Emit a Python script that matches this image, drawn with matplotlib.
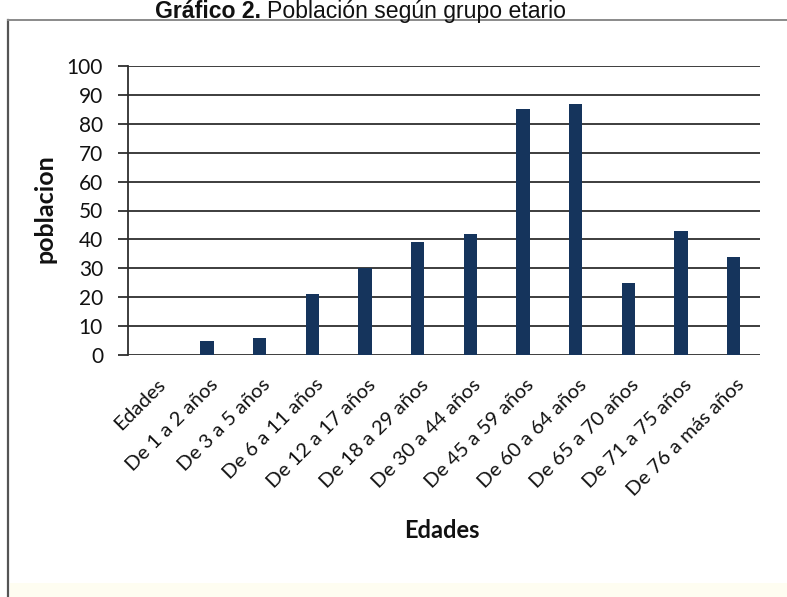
import matplotlib
matplotlib.use("Agg")
import matplotlib.pyplot as plt
import matplotlib.transforms as mtransforms
from matplotlib.patches import Rectangle
from matplotlib.lines import Line2D

categories = ["Edades", "De 1 a 2 años", "De 3 a 5 años", "De 6 a 11 años",
              "De 12 a 17 años", "De 18 a 29 años", "De 30 a 44 años",
              "De 45 a 59 años", "De 60 a 64 años", "De 65 a 70 años",
              "De 71 a 75 años", "De 76 a más años"]
poblacion = [0, 5, 6, 21, 30, 39, 42, 85, 87, 25, 43, 34]
y_ticks = [0, 10, 20, 30, 40, 50, 60, 70, 80, 90, 100]

W, H = 787, 597
DPI = 100
fig = plt.figure(figsize=(W / DPI, H / DPI), dpi=DPI)
fig.patch.set_facecolor("white")

BODY = "Lato"
BAR = "#15345c"
GRID = "#2e2e2e"

# chart frame (left and top edges, plus a faint warm strip at the bottom)
fig.add_artist(Rectangle((10 / W, 0), 1, 14 / H, transform=fig.transFigure,
                         color="#fefdf1", lw=0, zorder=0))
fig.add_artist(Line2D([8 / W, 8 / W], [0, 1 - 20 / H], transform=fig.transFigure,
                      color="#555555", lw=1.6))
fig.add_artist(Line2D([8 / W, 1], [1 - 20 / H, 1 - 20 / H], transform=fig.transFigure,
                      color="#8a8a8a", lw=1.4))

# title: bold prefix followed by regular text
t1 = fig.text(155 / W, 1 - 18 / H, "Gráfico 2.", family="Liberation Sans",
              fontsize=16.6, fontweight="bold", ha="left", va="baseline", color="#111111")
fig.canvas.draw()
bb = t1.get_window_extent()
fig.text(bb.x1 / W + 6 / W, 1 - 18 / H, "Población según grupo etario",
         family="Liberation Sans", fontsize=16.6, ha="left", va="baseline", color="#111111")

ax = fig.add_axes([128 / W, 1 - 355 / H, (760 - 128) / W, (355 - 66) / H])
x = list(range(len(categories)))
ax.bar(x, poblacion, width=0.25, color=BAR, zorder=3)
ax.set_xlim(-0.5, len(categories) - 0.5)
ax.set_ylim(0, 100)
ax.set_yticks(y_ticks)
ax.set_yticklabels([str(v) for v in y_ticks], family=BODY, fontsize=15, color="#111111")
ax.yaxis.grid(True, color=GRID, lw=1.3, zorder=0)
ax.set_axisbelow(True)
for s in ["top", "right", "bottom"]:
    ax.spines[s].set_visible(False)
ax.spines["left"].set_color(GRID)
ax.spines["left"].set_linewidth(1.3)
ax.tick_params(axis="y", direction="out", length=10 * 72 / DPI, width=1.3,
               color=GRID, pad=15 * 72 / DPI)
ax.tick_params(axis="x", length=0, pad=27 * 72 / DPI)

ax.set_xticks(x)
ax.set_xticklabels(categories, family=BODY, fontsize=14.6, rotation=45,
                   ha="right", va="center", rotation_mode="anchor", color="#111111")
shift = mtransforms.ScaledTranslation(8 / DPI, 0, fig.dpi_scale_trans)
for lab in ax.get_xticklabels():
    lab.set_transform(lab.get_transform() + shift)

fig.text(45 / W, 1 - 209 / H, "poblacion", family=BODY, fontsize=18,
         fontweight="bold", rotation=90, ha="center", va="center", color="#111111")
fig.text(442 / W, 1 - 531 / H, "Edades", family=BODY, fontsize=17,
         fontweight="bold", ha="center", va="center", color="#111111")

fig.savefig("out.png", dpi=DPI, facecolor="white")
